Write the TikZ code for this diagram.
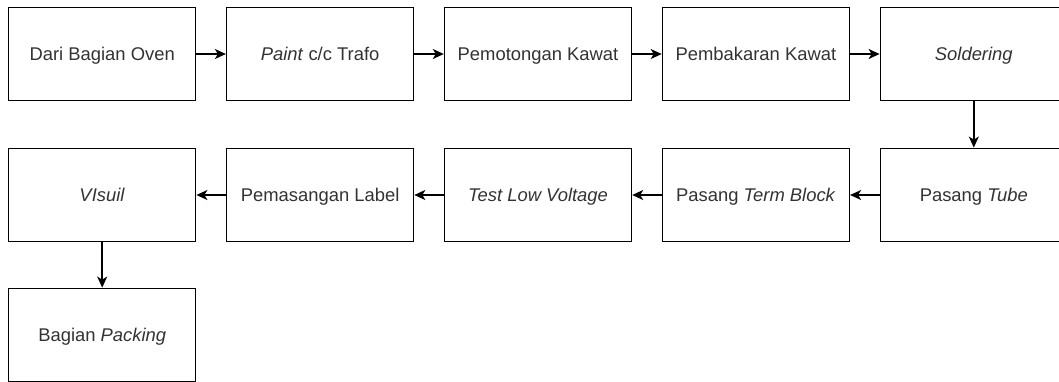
\documentclass[tikz,border=0pt]{standalone}
\usepackage{fontspec}
\setmainfont{Liberation Sans}
\usetikzlibrary{arrows.meta}
\definecolor{txt}{HTML}{333333}
\tikzset{
  stepbox/.style={draw=black, line width=1.4pt, fill=white, minimum width=187pt, minimum height=93.4pt,
    inner sep=0pt, text=txt, font=\fontsize{18.4pt}{22pt}\selectfont, text height=13.4pt, text depth=0pt, anchor=center},
  flow/.style={draw=black, line width=1.5pt, -{Stealth[length=11pt,width=10pt,inset=3pt]}}
}
\begin{document}
\begin{tikzpicture}[x=1pt,y=-1pt]
\useasboundingbox (0,0) rectangle (1059,381);
\fill[white] (0,0) rectangle (1059,381);
% row 1
\node[stepbox] (a1) at (102.2,54) {Dari Bagian Oven};
\node[stepbox] (a2) at (320.1,54) {\textit{Paint} c/c Trafo};
\node[stepbox] (a3) at (538.0,54) {Pemotongan Kawat};
\node[stepbox] (a4) at (755.9,54) {Pembakaran Kawat};
\node[stepbox] (a5) at (973.8,54) {\textit{Soldering}};
% row 2
\node[stepbox] (b5) at (973.8,195) {Pasang \textit{Tube}};
\node[stepbox] (b4) at (755.9,195) {Pasang \textit{Term Block}};
\node[stepbox] (b3) at (538.0,195) {\textit{Test Low Voltage}};
\node[stepbox] (b2) at (320.1,195) {Pemasangan Label};
\node[stepbox] (b1) at (102.2,195) {\textit{VIsuil}};
% row 3
\node[stepbox] (c1) at (102.2,335) {Bagian \textit{Packing}};
% connectors
\draw[flow] (a1) -- (a2);
\draw[flow] (a2) -- (a3);
\draw[flow] (a3) -- (a4);
\draw[flow] (a4) -- (a5);
\draw[flow] (a5) -- (b5);
\draw[flow] (b5) -- (b4);
\draw[flow] (b4) -- (b3);
\draw[flow] (b3) -- (b2);
\draw[flow] (b2) -- (b1);
\draw[flow] (b1) -- (c1);
\end{tikzpicture}
\end{document}
